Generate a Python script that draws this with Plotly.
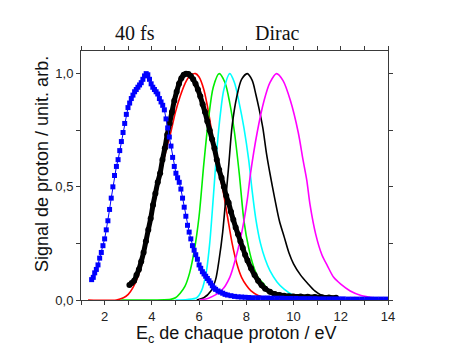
import plotly.graph_objects as go

# Measured 40 fs spectrum (blue squares)
blue_x = [1.45, 1.52, 1.58, 1.65, 1.72, 1.79, 1.86, 1.93, 2.0, 2.07, 2.14, 2.21, 2.28, 2.35, 2.42,
          2.5, 2.57, 2.64, 2.71, 2.78, 2.85, 2.92, 2.99, 3.06, 3.13, 3.2, 3.27, 3.34, 3.41, 3.48,
          3.55, 3.62, 3.69, 3.76, 3.83, 3.9, 3.97, 4.04, 4.11, 4.18, 4.25, 4.32, 4.39, 4.46, 4.53,
          4.6, 4.67, 4.74, 4.81, 4.88, 4.95, 5.02, 5.09, 5.16, 5.23, 5.3, 5.37, 5.44, 5.51, 5.58,
          5.65, 5.72, 5.79, 5.86, 5.93, 6.0, 6.07, 6.14, 6.21, 6.28, 6.35, 6.42, 6.49, 6.56, 6.63,
          6.7, 6.8, 6.9, 7.0, 7.1, 7.2, 7.35, 7.5, 7.65, 7.8, 7.95, 8.1, 8.3, 8.5, 8.7, 8.9, 9.1,
          9.3, 9.5, 9.7, 9.9, 10.1, 10.3, 10.5, 10.7, 10.9, 11.1, 11.3, 11.5, 11.7, 11.9, 12.1,
          12.3, 12.5, 12.7, 12.9, 13.1, 13.3, 13.5, 13.7, 13.9]
blue_y = [0.09, 0.10, 0.12, 0.135, 0.155, 0.185, 0.21, 0.24, 0.27, 0.31, 0.35, 0.40, 0.45, 0.50, 0.55,
          0.59, 0.62, 0.66, 0.70, 0.74, 0.78, 0.82, 0.85, 0.87, 0.89, 0.905, 0.92, 0.93, 0.94, 0.95,
          0.96, 0.975, 0.99, 1.0, 0.995, 0.975, 0.955, 0.94, 0.93, 0.92, 0.91, 0.89, 0.875, 0.86, 0.84,
          0.80, 0.76, 0.72, 0.68, 0.63, 0.59, 0.56, 0.54, 0.52, 0.49, 0.45, 0.41, 0.37, 0.33, 0.30,
          0.27, 0.24, 0.22, 0.20, 0.18, 0.155, 0.14, 0.125, 0.115, 0.105, 0.095, 0.085, 0.075, 0.063, 0.053,
          0.047, 0.04, 0.035, 0.03, 0.025, 0.022, 0.019, 0.016, 0.014, 0.013, 0.012, 0.011, 0.010, 0.010, 0.009, 0.009, 0.008,
          0.008, 0.008, 0.007, 0.007, 0.007, 0.006, 0.006, 0.006, 0.006, 0.005, 0.005, 0.005, 0.005, 0.005, 0.005,
          0.004, 0.004, 0.004, 0.004, 0.004, 0.004, 0.004, 0.004, 0.004]

# Measured spectrum (black dots)
dots_x = [3.05, 3.15, 3.25, 3.35, 3.45, 3.55, 3.65, 3.75, 3.85, 3.95, 4.05, 4.15, 4.25, 4.35, 4.45,
          4.55, 4.65, 4.75, 4.85, 4.95, 5.05, 5.15, 5.25, 5.35, 5.45, 5.55, 5.65, 5.75, 5.85, 5.95,
          6.05, 6.15, 6.25, 6.35, 6.45, 6.55, 6.65, 6.75, 6.85, 6.95, 7.05, 7.15, 7.25, 7.35, 7.45,
          7.55, 7.65, 7.75, 7.85, 7.95, 8.05, 8.2, 8.35, 8.5, 8.65, 8.8, 9.0, 9.2, 9.4, 9.6, 9.8,
          10.0, 10.3, 10.6, 10.9, 11.2, 11.5, 11.8]
dots_y = [0.066, 0.075, 0.085, 0.11, 0.135, 0.17, 0.21, 0.26, 0.31, 0.36, 0.42, 0.47, 0.52, 0.56, 0.62,
          0.67, 0.73, 0.78, 0.83, 0.88, 0.92, 0.955, 0.98, 0.995, 1.0, 0.998, 0.99, 0.975, 0.955, 0.93,
          0.90, 0.865, 0.83, 0.79, 0.75, 0.71, 0.67, 0.62, 0.575, 0.54, 0.50, 0.46, 0.43, 0.39, 0.355,
          0.32, 0.29, 0.26, 0.23, 0.20, 0.175, 0.14, 0.11, 0.085, 0.065, 0.05, 0.036, 0.027, 0.022, 0.019, 0.017,
          0.016, 0.015, 0.014, 0.013, 0.012, 0.011, 0.010]

# Dirac model curves
red_x = [1.3, 2.5, 2.8, 3.0, 3.2, 3.4, 3.6, 3.8, 4.0, 4.2, 4.4, 4.6, 4.8, 5.0, 5.2, 5.4, 5.6, 5.85,
         6.0, 6.2, 6.4, 6.6, 6.8, 7.0, 7.2, 7.4, 7.6, 7.8, 8.0, 8.2, 8.5, 9.0, 9.5]
red_y = [0.0, 0.0, 0.01, 0.025, 0.055, 0.10, 0.17, 0.27, 0.37, 0.47, 0.57, 0.66, 0.74, 0.83, 0.90, 0.955, 0.99, 1.0,
         0.985, 0.93, 0.83, 0.70, 0.58, 0.49, 0.37, 0.25, 0.16, 0.10, 0.065, 0.04, 0.02, 0.005, 0.0]

green_x = [2.7, 4.8, 5.0, 5.2, 5.4, 5.6, 5.8, 6.0, 6.2, 6.4, 6.6, 6.85, 7.1, 7.3, 7.5, 7.7, 7.9,
           8.1, 8.3, 8.5, 8.75, 9.0, 9.3, 9.7, 10.5, 14.0]
green_y = [0.0, 0.003, 0.01, 0.03, 0.06, 0.12, 0.22, 0.37, 0.60, 0.80, 0.94, 1.0, 0.96, 0.87, 0.74, 0.56, 0.35,
           0.23, 0.15, 0.10, 0.07, 0.035, 0.018, 0.007, 0.002, 0.0]

cyan_x = [5.0, 5.5, 5.9, 6.1, 6.3, 6.45, 6.6, 6.75, 6.9, 7.05, 7.3, 7.5, 7.7, 7.9, 8.1, 8.25, 8.4,
          8.6, 8.8, 9.0, 9.3, 9.6, 10.0, 10.5, 11.0]
cyan_y = [0.0, 0.002, 0.01, 0.04, 0.12, 0.25, 0.45, 0.66, 0.82, 0.93, 1.0, 0.96, 0.87, 0.76, 0.62, 0.48, 0.36,
          0.25, 0.18, 0.13, 0.08, 0.048, 0.02, 0.006, 0.0]

black_x = [5.9, 6.2, 6.5, 6.7, 6.85, 7.0, 7.15, 7.26, 7.4, 7.6, 7.8, 8.04, 8.25, 8.4, 8.55, 8.7, 8.85,
           9.0, 9.2, 9.4, 9.6, 9.8, 10.0, 10.3, 10.6, 10.9, 11.2, 11.6, 12.0]
black_y = [0.0, 0.01, 0.04, 0.09, 0.18, 0.30, 0.47, 0.60, 0.77, 0.90, 0.975, 1.0, 0.97, 0.91, 0.84, 0.76, 0.65,
           0.56, 0.45, 0.35, 0.28, 0.21, 0.16, 0.11, 0.073, 0.04, 0.02, 0.007, 0.0]

magenta_x = [6.0, 6.4, 6.97, 7.3, 7.54, 7.75, 7.9, 8.05, 8.18, 8.46, 8.75, 9.0, 9.28, 9.55, 9.87, 10.2,
             10.4, 10.56, 10.7, 10.94, 11.2, 11.44, 11.7, 12.0, 12.4, 12.86, 13.4, 14.0]
magenta_y = [0.0, 0.008, 0.044, 0.10, 0.18, 0.27, 0.35, 0.45, 0.56, 0.74, 0.88, 0.96, 1.0, 0.97, 0.88, 0.74,
             0.62, 0.53, 0.42, 0.29, 0.20, 0.15, 0.10, 0.07, 0.04, 0.02, 0.01, 0.005]

x_ticks = [2, 4, 6, 8, 10, 12, 14]
x_labels = ["2", "4", "6", "8", "10", "12", "14"]
y_ticks = [0.0, 0.5, 1.0]
y_labels = ["0,0", "0,5", "1,0"]

W, H = 450, 347
ML, MR, MT, MB = 81, 62, 51, 47
plot_w = W - ML - MR
plot_h = H - MT - MB


def px_to_paper(px, py):
    """Convert a pixel position on the page to paper coordinates."""
    return (px - ML) / plot_w, (H - MB - py) / plot_h


fig = go.Figure()

model_curves = [
    (red_x, red_y, "#ff0000"),
    (green_x, green_y, "#00ee00"),
    (cyan_x, cyan_y, "#00ffff"),
    (black_x, black_y, "#000000"),
    (magenta_x, magenta_y, "#ff00ff"),
]
for cx, cy, col in model_curves:
    fig.add_trace(go.Scatter(x=cx, y=cy, mode="lines",
                             line=dict(color=col, width=1.6, shape="spline", smoothing=0.8),
                             showlegend=False, hoverinfo="skip"))

fig.add_trace(go.Scatter(x=dots_x, y=dots_y, mode="lines+markers",
                         line=dict(color="#000000", width=5, shape="spline", smoothing=0.8),
                         marker=dict(symbol="circle", size=6, color="#000000"),
                         showlegend=False, hoverinfo="skip"))

fig.add_trace(go.Scatter(x=blue_x, y=blue_y, mode="lines+markers",
                         line=dict(color="#0000ff", width=1),
                         marker=dict(symbol="square", size=5, color="#0000ff"),
                         showlegend=False, hoverinfo="skip"))

axis_common = dict(
    showline=True, linecolor="#3a3a3a", linewidth=1, mirror="ticks",
    ticks="outside", ticklen=4, tickwidth=1, tickcolor="#3a3a3a",
    showgrid=False, zeroline=False,
    tickfont=dict(family="Liberation Sans, Arial, sans-serif", size=13, color="#222222"),
)
minor_common = dict(ticks="outside", ticklen=4, tickwidth=1, tickcolor="#3a3a3a", showgrid=False)

sans = "Liberation Sans, Arial, sans-serif"
serif = "Liberation Serif, Times New Roman, serif"

labels = [
    # text, x px, y px, font family, size, angle, vertical anchor
    ("40 fs", 135, 33, serif, 20, 0, "middle"),
    ("Dirac", 277, 33, serif, 20, 0, "middle"),
    ("E<sub>c</sub> de chaque proton / eV", 236, 347, sans, 18, 0, "bottom"),
    ("Signal de proton / unit. arb.", 42, 164, sans, 18, -90, "middle"),
]
annotations = []
for text, px, py, fam, size, ang, yanc in labels:
    ax, ay = px_to_paper(px, py)
    annotations.append(dict(text=text, x=ax, y=ay, xref="paper", yref="paper",
                            xanchor="center", yanchor=yanc, showarrow=False, borderpad=0,
                            textangle=ang, font=dict(family=fam, size=size, color="#111111")))

fig.update_layout(
    width=W, height=H,
    margin=dict(l=ML, r=MR, t=MT, b=MB),
    paper_bgcolor="white", plot_bgcolor="white",
    separators=", ",
    xaxis=dict(range=[1, 14], tickvals=x_ticks, ticktext=x_labels,
               minor=dict(tick0=1, dtick=1, **minor_common), **axis_common),
    yaxis=dict(range=[0, 1.1], tickvals=y_ticks, ticktext=y_labels,
               minor=dict(tick0=0, dtick=0.25, **minor_common), **axis_common),
    annotations=annotations,
)

fig.write_html("out.html")
